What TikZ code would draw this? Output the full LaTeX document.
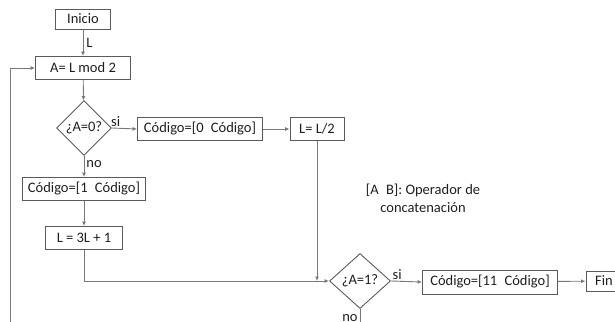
\documentclass[tikz,border=0pt]{standalone}
\usepackage{fontspec}
\setmainfont{Carlito}
\usetikzlibrary{shapes.geometric,arrows.meta,positioning}
\definecolor{lineg}{RGB}{120,120,120}
\definecolor{boxg}{RGB}{90,90,90}
\definecolor{txtg}{RGB}{30,30,30}

\begin{document}
\begin{tikzpicture}[x=1pt, y=-1pt,
  every node/.style={font=\fontsize{14.5}{18}\selectfont, text=txtg},
  box/.style={rectangle, draw=boxg, line width=0.9pt, minimum height=23pt, inner sep=2pt, align=center},
  cond/.style={diamond, draw=boxg, line width=0.9pt, inner sep=0pt, aspect=1},
  arr/.style={draw=lineg, line width=0.9pt, -{Latex[length=4.5pt,width=4pt]}},
  lbl/.style={inner sep=1pt}]

\clip (0,0) rectangle (615,321);

\node[box, minimum width=55pt, minimum height=20pt] (ini) at (83,19) {Inicio};

\node[box, minimum width=95pt] (mod) at (83,68) {A= L mod 2};

\node[cond, minimum width=55pt, minimum height=55pt] (a0) at (84,128) {¿A=0?};

\node[box, minimum width=125pt] (c0) at (200,129) {Código=[0\enspace Código]};

\node[box, minimum width=54pt] (half) at (317,129) {L= L/2};

\node[box, minimum width=123pt] (c1) at (84,189) {Código=[1\enspace Código]};

\node[box, minimum width=77pt] (tri) at (84,238) {L = 3L + 1};

\node[cond, minimum width=61pt, minimum height=55pt] (a1) at (360,281) {¿A=1?};

\node[box, minimum width=135pt, minimum height=24pt] (c11) at (490,282) {Código=[11\enspace Código]};

\node[box, minimum width=36pt, minimum height=20pt] (fin) at (604,281) {Fin};

\node[align=center] (nota) at (423,198) {[A\enspace B]: Operador de\\concatenación};

\coordinate (loop) at (10,330);
\coordinate (down) at (360,330);

\draw[arr] (ini) -- node[lbl, right=2pt] {L} (mod);
\draw[arr] (loop) |- (mod.west);
\draw[arr] (mod) -- (a0);
\draw[arr] (a0.east) -- node[lbl, pos=0.15, above=0pt] {si} (c0.west);
\draw[arr] (c0) -- (half);
\draw[arr] (a0.south) -- node[lbl, pos=0.4, right=1pt] {no} (c1.north);
\draw[arr] (c1) -- (tri);
\draw[arr] (tri.south) |- (a1.west);
\draw[arr] (half.south) -- (half.south |- a1.west);
\draw[arr] (a1.east) -- node[lbl, pos=0.2, above=0pt] {si} (c11.west);
\draw[arr] (c11) -- (fin);
\draw[draw=lineg, line width=0.9pt] (a1.south) -- node[lbl, pos=0.45, left=1pt] {no} (down);

\end{tikzpicture}
\end{document}
